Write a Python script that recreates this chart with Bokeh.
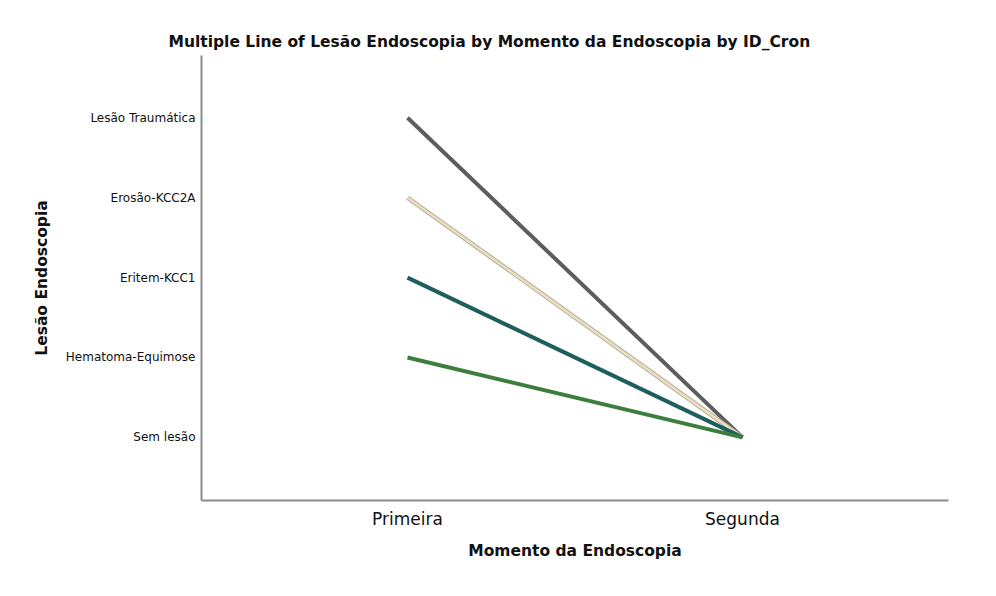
from bokeh.plotting import figure
from bokeh.models import Range1d, FixedTicker, Title
from bokeh.embed import file_html
from bokeh.resources import INLINE

# --- data ---
lesao_levels = ["Sem lesão", "Hematoma-Equimose", "Eritem-KCC1", "Erosão-KCC2A", "Lesão Traumática"]
momentos = ["Primeira", "Segunda"]

serie_traumatica = ["Lesão Traumática", "Sem lesão"]
serie_erosao = ["Erosão-KCC2A", "Sem lesão"]
serie_eritem = ["Eritem-KCC1", "Sem lesão"]
serie_hematoma = ["Hematoma-Equimose", "Sem lesão"]

series_colors = ["#5b5d5f", "#e9dfc6", "#1f5e5e", "#3c7f3c"]
series_list = [serie_traumatica, serie_erosao, serie_eritem, serie_hematoma]

xs = [momentos.index(m) for m in momentos]

p = figure(width=980, height=580, output_backend="svg", toolbar_location=None,
           x_range=Range1d(-0.615, 1.615), y_range=Range1d(-0.79, 4.78),
           min_border_left=201, min_border_right=32, min_border_top=55, min_border_bottom=80)
p.title = None
title = Title(text="Multiple Line of Lesão Endoscopia by Momento da Endoscopia by ID_Cron",
              align="left", offset=-33, text_font="DejaVu Sans", text_font_size="15.5px",
              text_font_style="bold", text_color="#111111", standoff=9)
p.add_layout(title, "above")

for s, c in zip(series_list, series_colors):
    ys = [lesao_levels.index(v) for v in s]
    if c == "#e9dfc6":
        p.line(xs, ys, line_color="#b8ad92", line_width=4.5)
        p.line(xs, ys, line_color=c, line_width=2.5)
    else:
        p.line(xs, ys, line_color=c, line_width=4)

p.xgrid.visible = False
p.ygrid.visible = False
p.outline_line_color = None

p.xaxis.ticker = FixedTicker(ticks=list(range(len(momentos))))
p.xaxis.major_label_overrides = {i: m for i, m in enumerate(momentos)}
p.yaxis.ticker = FixedTicker(ticks=list(range(len(lesao_levels))))
p.yaxis.major_label_overrides = {i: l for i, l in enumerate(lesao_levels)}

for ax in (p.xaxis, p.yaxis):
    ax.major_tick_line_color = None
    ax.minor_tick_line_color = None
    ax.axis_line_color = "#8c8c8c"
    ax.axis_line_width = 2
    ax.axis_label_text_font = "DejaVu Sans"
    ax.axis_label_text_font_style = "bold"
    ax.axis_label_text_font_size = "15.5px"
    ax.axis_label_text_color = "#111111"
    ax.major_label_text_font = "DejaVu Sans"
    ax.major_label_text_color = "#111111"

p.xaxis.axis_label = "Momento da Endoscopia"
p.yaxis.axis_label = "Lesão Endoscopia"
p.xaxis.major_label_text_font_size = "17px"
p.yaxis.major_label_text_font_size = "12px"
p.xaxis.major_label_standoff = 2
p.yaxis.major_label_standoff = 0
p.xaxis.axis_label_standoff = 10
p.yaxis.axis_label_standoff = 12

open("out.html", "w").write(file_html(p, INLINE))
